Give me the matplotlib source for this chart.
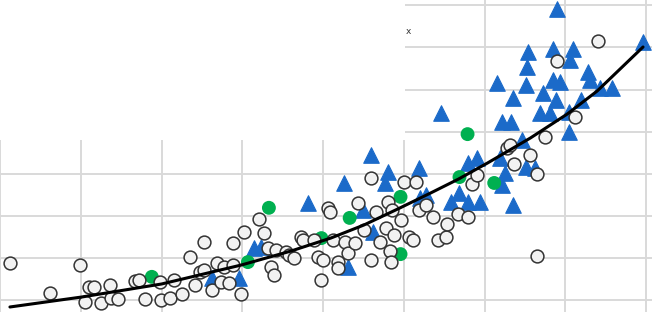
import matplotlib
matplotlib.use("Agg")
import matplotlib.pyplot as plt
from matplotlib.patches import Rectangle

# ---- data ----
circle_x = [1.2, 6.2, 9.9, 11.0, 11.7, 10.5, 12.5, 13.6, 13.8, 14.6, 16.7, 17.2, 17.9, 19.8, 19.9,
            21.0, 21.5, 22.5, 23.5, 24.1, 24.8, 25.3, 25.3, 26.2, 26.9, 27.8, 28.9, 27.4, 28.4, 29.9,
            28.9, 30.2, 32.1, 32.7, 33.2, 34.2, 33.6, 33.9, 35.4, 35.8, 36.4, 37.3, 37.5, 38.9, 39.4,
            40.0, 39.8, 40.6, 40.9, 41.2, 41.9, 41.9, 42.7, 43.1, 43.9, 44.3, 45.1, 45.9, 45.9, 46.5,
            47.0, 47.8, 48.0, 48.6, 48.8, 48.3, 48.4, 49.6, 50.0, 51.5, 50.6, 51.2, 51.9, 52.8, 53.6,
            54.2, 55.2, 55.4, 56.7, 57.9, 58.4, 59.1, 62.8, 63.2, 63.6, 65.6, 66.5, 66.5, 67.5, 71.2,
            69.0, 74.1]
circle_y = [8.8, 1.7, 8.3, 3.1, 3.1, -0.5, -0.7, 3.6, 0.5, 0.2, 4.5, 4.8, 0.2, 4.3, 0.0,
            0.5, 4.8, 1.4, 10.2, 3.6, 6.7, 13.8, 7.1, 2.4, 8.8, 7.8, 8.3, 4.3, 4.0, 1.4,
            13.5, 16.2, 19.2, 15.9, 12.4, 11.9, 7.8, 5.9, 11.4, 10.7, 10.0, 15.0, 14.3, 14.3, 10.2,
            9.5, 4.8, 21.9, 20.9, 14.3, 9.0, 7.6, 13.8, 11.2, 13.5, 23.0, 16.6, 29.0, 9.5, 20.9,
            13.8, 17.1, 23.3, 21.4, 15.4, 11.6, 9.0, 19.0, 28.0, 28.0, 15.0, 14.3, 21.4, 22.6, 19.7,
            14.3, 15.0, 18.1, 20.4, 19.7, 27.6, 29.7, 36.1, 36.8, 32.3, 34.4, 29.9, 10.5, 38.7, 43.5,
            56.8, 61.5]

green_x = [18.8, 30.7, 33.3, 39.8, 43.3, 49.6, 49.6, 56.9, 57.9, 61.2]
green_y = [5.5, 9.0, 21.9, 14.7, 19.5, 24.5, 10.9, 29.2, 39.4, 27.8]

tri_x = [26.2, 29.6, 31.4, 32.3, 38.1, 42.6, 43.1, 45.9, 48.0, 47.7, 51.9, 52.0, 52.7, 55.8, 56.9,
         57.9, 59.4, 57.9, 59.1, 61.9, 62.5, 62.2, 63.5, 65.1, 66.3, 64.7, 62.2, 63.3, 70.4, 66.9,
         68.1, 70.5, 63.5, 67.2, 68.8, 71.9, 74.3, 75.8, 73.1, 72.8, 61.6, 65.1, 68.5, 69.4, 65.3,
         70.6, 65.4, 68.5, 70.9, 69.0, 79.6, 54.6, 44.9, 46.2]
tri_y = [5.2, 5.2, 12.4, 12.6, 23.0, 27.8, 7.8, 34.4, 30.4, 27.8, 31.4, 24.2, 24.9, 23.3, 25.4,
         23.3, 23.3, 32.5, 33.7, 33.7, 30.2, 27.3, 22.6, 31.6, 31.4, 38.0, 42.3, 42.3, 39.9, 44.4,
         44.4, 44.7, 48.0, 49.2, 47.5, 47.5, 50.4, 50.4, 52.3, 54.2, 51.5, 51.1, 52.3, 51.8, 55.3,
         57.0, 58.9, 59.6, 59.6, 69.1, 61.3, 44.4, 21.4, 16.2]

trend_x = [1.23, 10.12, 20.0, 29.88, 36.05, 40.99, 45.06, 49.26, 53.33, 56.79, 60.37, 65.68,
           70.25, 73.95, 79.63]
trend_y = [-1.66, 0.71, 3.80, 8.31, 11.64, 14.73, 17.81, 21.62, 25.42, 28.74, 32.54, 38.48,
           44.18, 49.64, 60.10]

x_grid = list(range(0, 81, 10))
y_grid = list(range(0, 71, 10))

# ---- figure ----
fig = plt.figure(figsize=(6.52, 3.12), dpi=100)
ax = fig.add_axes([0, 0, 1, 1])
ax.set_xlim(0.25, 80.74)
ax.set_ylim(-2.85, 71.26)
ax.set_xticks(x_grid)
ax.set_yticks(y_grid)
ax.tick_params(length=0, labelbottom=False, labelleft=False)
for s in ax.spines.values():
    s.set_visible(False)
ax.set_axisbelow(True)
ax.grid(True, color="#d9d9d9", linewidth=1.4)

# blank overlay panel at top-left
ax.add_patch(Rectangle((0, 0.551), 0.621, 0.449, transform=ax.transAxes,
                       facecolor="white", edgecolor="none", zorder=1))
ax.text(0.626, 0.90, "x", transform=ax.transAxes, fontsize=6.5, color="#333333",
        ha="center", va="center", zorder=6)

ax.scatter(tri_x, tri_y, marker="^", s=125, color="#1b6ac9", edgecolors="#1b6ac9",
           linewidths=0.8, zorder=2)
ax.scatter(green_x, green_y, marker="o", s=100, color="#00b050", edgecolors="none", zorder=3)
ax.scatter(circle_x, circle_y, marker="o", s=85, facecolor="#f2f2f2", edgecolors="#333333",
           linewidths=1.1, zorder=4)
ax.plot(trend_x, trend_y, color="black", linewidth=2.2, zorder=5, solid_capstyle="round",
        solid_joinstyle="round")

fig.savefig("out.png", dpi=100)
